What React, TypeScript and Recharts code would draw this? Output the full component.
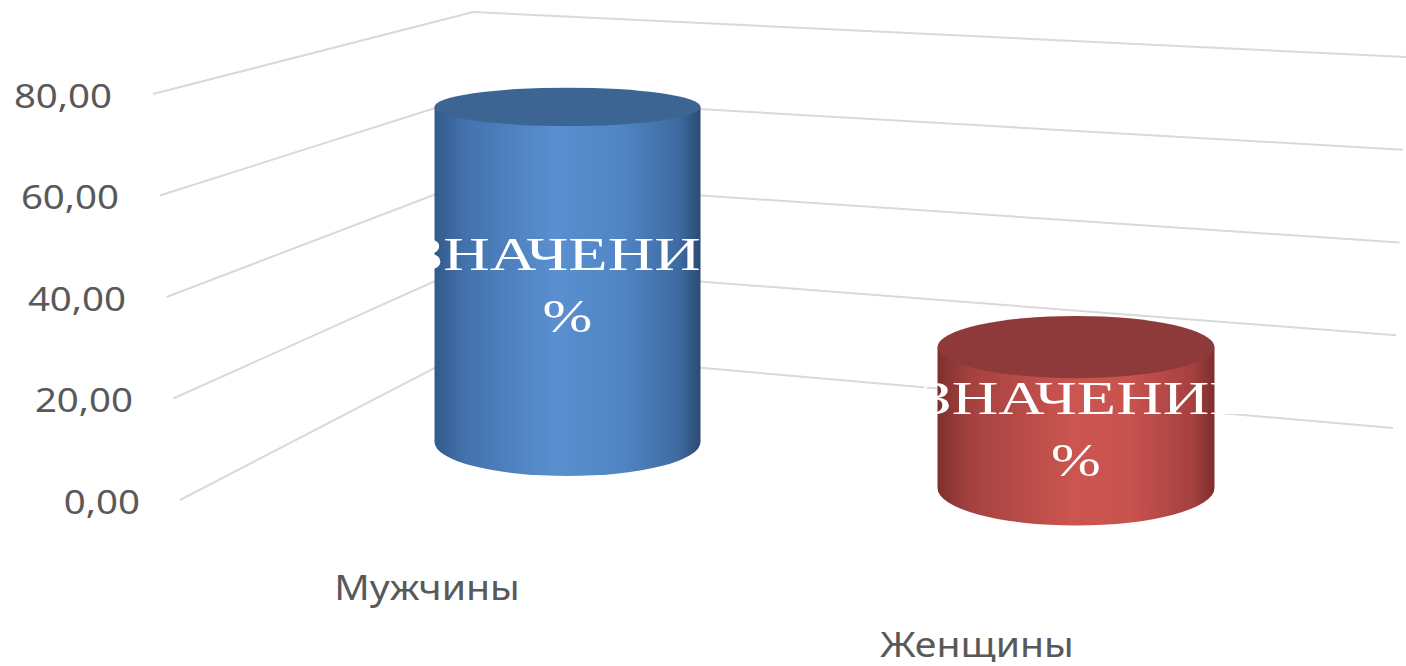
import React from 'react';
import { ComposedChart, Bar, XAxis, YAxis, CartesianGrid, LabelList } from 'recharts';

// ---- data ----
const categories = ['Мужчины', 'Женщины'];
const menValues: (number | null)[] = [71, null];
const womenValues: (number | null)[] = [null, 29];
const yTicks = [0, 20, 40, 60, 80];
const labelWord = 'ЗНАЧЕНИЕ';
const labelUnit = '%';

const data = categories.map((name, i) => ({ name, men: menValues[i], women: womenValues[i] }));

// ---- layout ----
const W = 1406;
const H = 666;
const PLOT_TOP = 94;
const PLOT_BOTTOM = 500;
const PLOT_LEFT = 312.5;
const PLOT_RIGHT = 1330.5;
const PLOT_H = PLOT_BOTTOM - PLOT_TOP;
const Y_AXIS_W = 60;
const X_AXIS_H = 30;

// perspective planes for the two cylinders (floor y of value 0, pixels per unit)
const planeDomain = (floorY: number, ppu: number): [number, number] => {
  const lo = -(PLOT_BOTTOM - floorY) / ppu;
  return [lo, lo + PLOT_H / ppu];
};
const menDomain = planeDomain(442, 4.72);
const womenDomain = planeDomain(488, 4.86);

const TEXT = '#595959';
const GRID = '#d9d9d9';

const BLUE = {
  id: 'gBlue',
  top: '#3d6593',
  stops: [
    [0, '#34598a'],
    [0.12, '#4373ae'],
    [0.45, '#5a8fd0'],
    [0.7, '#5086c4'],
    [0.92, '#3e6aa0'],
    [1, '#2b4a72'],
  ],
};
const RED = {
  id: 'gRed',
  top: '#8e3a3a',
  stops: [
    [0, '#7f2f2e'],
    [0.12, '#a44240'],
    [0.5, '#cc5550'],
    [0.7, '#c7524e'],
    [0.92, '#a54140'],
    [1, '#7d2e2d'],
  ],
};

const ryAt = (y: number, w: number) => w * (0.112 + (y - 346) * 0.000166);

const Cylinder = (props: any) => {
  const { x, y, width, height, pal, value } = props;
  if (value == null || !height || height <= 0) return null;
  const v = Array.isArray(value) ? value[1] : value;
  if (v == null) return null;
  const rx = width / 2;
  const cx = x + rx;
  const top = y;
  const bottom = y + height;
  const ryT = ryAt(top, width);
  const ryB = ryAt(bottom, width);
  const body = `M ${x} ${top} V ${bottom} A ${rx} ${ryB} 0 0 0 ${x + width} ${bottom} V ${top} Z`;
  return (
    <g>
      <defs>
        <linearGradient id={pal.id} x1="0" y1="0" x2="1" y2="0">
          {pal.stops.map((s: any, i: number) => (
            <stop key={i} offset={s[0]} stopColor={s[1]} />
          ))}
        </linearGradient>
      </defs>
      <path d={body} fill={`url(#${pal.id})`} />
      <ellipse cx={cx} cy={top} rx={rx} ry={ryT} fill={pal.top} />
    </g>
  );
};

const WallLine = (p: any) => {
  const y = p.y1;
  const t = (PLOT_BOTTOM - y) / PLOT_H;
  const p1 = [180 - t * 27, y];
  const p2 = [473, 348 - t * 336];
  const p3 = [1393 + t * 13, 428 - t * 371];
  return (
    <polyline
      key={`wl-${p.index}`}
      points={`${p1[0]},${p1[1]} ${p2[0]},${p2[1]} ${p3[0]},${p3[1]}`}
      fill="none"
      stroke={GRID}
      strokeWidth={2}
    />
  );
};

const fmt = (v: number) => v.toFixed(2).replace('.', ',');

const YTick = (props: any) => {
  const { y, payload } = props;
  const t = (PLOT_BOTTOM - y) / PLOT_H;
  const xr = 140 - t * 28;
  return (
    <g transform={`translate(${xr},${y + 13.5}) scale(1.2,1)`}>
      <text x={0} y={0} textAnchor="end" fontFamily="'Noto Sans'" fontSize={32} fill={TEXT}>
        {fmt(payload.value)}
      </text>
    </g>
  );
};

const XTick = (props: any) => {
  const { x, payload } = props;
  const lx = x - 140 + (x - 567) * 0.0805;
  const baseline = 600 + (x - 567) * 0.112;
  return (
    <g transform={`translate(${lx},${baseline}) scale(1.12,1)`}>
      <text x={0} y={0} textAnchor="middle" fontFamily="'Noto Sans'" fontSize={35} fill={TEXT}>
        {payload.value}
      </text>
    </g>
  );
};

const renderLabel = (props: any) => {
  const vb = props.viewBox ?? props;
  const { x, y, width, height } = vb;
  if (props.value == null || !height) return null;
  const cx = x + width / 2;
  const cy = y + height / 2;
  return (
    <g fontFamily="'Liberation Serif', 'Times New Roman', serif" fontSize={46} fill="#ffffff">
      <g transform={`translate(${cx + 8},${cy - 4}) scale(1.4,1)`}>
        <text x={0} y={0} textAnchor="middle">{labelWord}</text>
      </g>
      <g transform={`translate(${cx},${cy + 58}) scale(1.3,1)`}>
        <text x={0} y={0} textAnchor="middle">{labelUnit}</text>
      </g>
    </g>
  );
};

export default function App() {
  return (
    <div style={{ position: 'absolute', left: 0, top: 0, width: W, height: H, background: '#fff' }}>
      <style>{'body{margin:0;background:#fff}'}</style>
      <ComposedChart
        width={W}
        height={H}
        data={data}
        margin={{
          top: PLOT_TOP,
          right: W - PLOT_RIGHT,
          bottom: H - PLOT_BOTTOM - X_AXIS_H,
          left: PLOT_LEFT - Y_AXIS_W,
        }}
      >
        <CartesianGrid xAxisId="men" yAxisId="main" vertical={false} horizontal={(p: any) => WallLine(p)} />
        <XAxis
          xAxisId="men"
          dataKey="name"
          axisLine={false}
          tickLine={false}
          height={X_AXIS_H}
          interval={0}
          tick={(p: any) => <XTick {...p} />}
        />
        <XAxis xAxisId="women" dataKey="name" hide />
        <YAxis
          yAxisId="main"
          type="number"
          domain={[0, 80]}
          ticks={yTicks}
          allowDataOverflow
          axisLine={false}
          tickLine={false}
          width={Y_AXIS_W}
          tick={(p: any) => <YTick {...p} />}
        />
        <YAxis yAxisId="men" type="number" domain={menDomain} hide />
        <YAxis yAxisId="women" type="number" domain={womenDomain} hide />
        <Bar
          dataKey="men"
          xAxisId="men"
          yAxisId="men"
          barSize={266}
          isAnimationActive={false}
          shape={(p: any) => <Cylinder {...p} pal={BLUE} />}
        >
          <LabelList dataKey="men" content={renderLabel} />
        </Bar>
        <Bar
          dataKey="women"
          xAxisId="women"
          yAxisId="women"
          barSize={277}
          isAnimationActive={false}
          shape={(p: any) => <Cylinder {...p} pal={RED} />}
        >
          <LabelList dataKey="women" content={renderLabel} />
        </Bar>
      </ComposedChart>
    </div>
  );
}
